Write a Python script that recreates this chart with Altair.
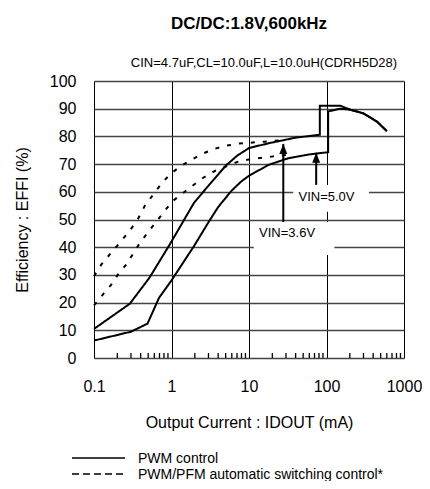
import altair as alt
import pandas as pd

FONT = "Liberation Sans"

# ---- curves (Output current mA, efficiency %) ----
pwm36_x = [0.1, 0.29, 0.52, 0.95, 1.95, 3.06, 5.0, 7.0, 10, 17.8, 26.5, 39, 71, 82, 82, 150, 200, 300, 450, 600]
pwm36_y = [10.5, 19.6, 29.0, 41.0, 56.0, 62.5, 69.4, 73.0, 75.8, 77.5, 78.5, 79.5, 80.4, 80.6, 91.1, 91.1, 89.7, 88.3, 85.3, 81.9]

pwm50_x = [0.1, 0.3, 0.49, 0.69, 1.0, 1.95, 3.0, 4.0, 6.0, 8.0, 10, 17.8, 32, 60, 105, 105, 150, 200, 300, 450, 600]
pwm50_y = [6.3, 9.5, 12.4, 21.7, 28.0, 40.4, 49.0, 54.5, 60.5, 63.8, 65.8, 69.7, 72.1, 73.5, 74.3, 89.0, 90.0, 89.7, 88.3, 85.3, 81.9]

pfm36_x = [0.1, 0.124, 0.159, 0.224, 0.286, 0.366, 0.454, 0.58, 0.755, 0.975, 1.33, 1.84, 2.59, 3.6, 5.0, 7.4, 10, 16, 26]
pfm36_y = [29.5, 33.7, 37.3, 42.2, 45.8, 50.0, 55.0, 59.0, 63.2, 66.5, 69.4, 71.7, 73.9, 75.5, 76.6, 77.4, 77.7, 78.1, 78.6]

pfm50_x = [0.1, 0.13, 0.167, 0.21, 0.26, 0.38, 0.5, 0.65, 0.817, 1.04, 1.4, 1.87, 2.51, 3.6, 5.0, 7.1, 10, 19.6, 32]
pfm50_y = [19.0, 22.9, 26.5, 30.7, 33.7, 41.0, 45.5, 49.5, 53.1, 56.7, 59.5, 62.2, 64.9, 67.5, 69.1, 70.8, 71.7, 72.7, 73.4]

modes = ["PWM control", "PWM/PFM automatic switching control*"]

# ---- annotations ----
ann_text = ["VIN=3.6V", "VIN=5.0V"]
ann_x = [31, 100]
ann_y = [45, 58.2]
box_x1 = [11.5, 37.2]
box_x2 = [126.5, 353]
box_y1 = [37.2, 52.8]
box_y2 = [49.1, 62.5]
arrow_x = [27.7, 73.6]
arrow_from = [49.1, 62.5]
arrow_tip = [77.3, 74.1]

x_major = [0.1, 1, 10, 100, 1000]
x_minor = [m * d for d in [0.1, 1, 10, 100] for m in range(2, 10)]
y_ticks = list(range(0, 101, 10))

title_text = "DC/DC:1.8V,600kHz"
subtitle_text = "CIN=4.7uF,CL=10.0uF,L=10.0uH(CDRH5D28)"

W, H = 310, 277

# ---- build tables ----
rows = []
for name, mode, xs, ys in [
    ("pwm36", modes[0], pwm36_x, pwm36_y),
    ("pwm50", modes[0], pwm50_x, pwm50_y),
    ("pfm36", modes[1], pfm36_x, pfm36_y),
    ("pfm50", modes[1], pfm50_x, pfm50_y),
]:
    for i, (a, b) in enumerate(zip(xs, ys)):
        rows.append({"x": a, "y": b, "series": name, "mode": mode, "o": i})
df = pd.DataFrame(rows)

ann = pd.DataFrame({"t": ann_text, "x": ann_x, "y": ann_y,
                    "bx1": box_x1, "bx2": box_x2, "by1": box_y1, "by2": box_y2})
arr = pd.DataFrame({"x": arrow_x, "y1": arrow_from, "y2": arrow_tip})
minor = pd.DataFrame({"x": x_minor})

xscale = alt.Scale(type="log", domain=[0.1, 1000], nice=False)
yscale = alt.Scale(domain=[0, 100], nice=False)

xaxis = alt.Axis(values=x_major, format="~g", grid=True, gridColor="#000", gridWidth=1,
                 ticks=False, domain=False, labelFontSize=16, labelPadding=20, labelFont=FONT,
                 labelColor="#000", title="Output Current : IDOUT (mA)", titleFont=FONT,
                 titleFontSize=16, titleFontWeight="normal", titleColor="#000",
                 titleX=W / 2, titleY=64, titleBaseline="middle", titleAlign="center",
                 labelFlush=False, labelOverlap=False, labelBound=False)
yaxis = alt.Axis(values=y_ticks, grid=True, gridColor="#444", gridWidth=1.3,
                 ticks=False, domain=False, labelFontSize=16, labelPadding=18, labelFont=FONT,
                 labelColor="#000", title="Efficiency : EFFI (%)", titleFont=FONT,
                 titleFontSize=16, titleFontWeight="normal", titleColor="#000",
                 titleX=-72, titleY=H / 2, titleAngle=-90, titleBaseline="middle",
                 titleAlign="center", labelFlush=False, labelOverlap=False, labelBound=False)


def X(field):
    return alt.X(field, scale=xscale, axis=xaxis, title="Output Current : IDOUT (mA)")


def Y(field):
    return alt.Y(field, scale=yscale, axis=yaxis, title="Efficiency : EFFI (%)")


boxes = alt.Chart(ann).mark_rect(fill="white", stroke=None).encode(
    x=X("bx1:Q"), x2="bx2:Q", y=Y("by1:Q"), y2="by2:Q",
)

minor_ticks = alt.Chart(minor).mark_rule(color="#000", strokeWidth=1.3).encode(
    x=X("x:Q"), y=alt.value(H), y2=alt.value(H - 5),
)

lines = alt.Chart(df).mark_line(color="#000", strokeWidth=2, strokeCap="butt").encode(
    x=X("x:Q"),
    y=Y("y:Q"),
    detail="series:N",
    order="o:Q",
    strokeDash=alt.StrokeDash("mode:N", scale=alt.Scale(domain=modes, range=[[1, 0], [4, 8]]), legend=None),
)

shafts = alt.Chart(arr).mark_rule(color="#000", strokeWidth=2).encode(
    x=X("x:Q"), y=Y("y1:Q"), y2="y2:Q",
)

heads = alt.Chart(arr).mark_point(shape="M0,0L0.8,2L-0.8,2Z", size=100, filled=True,
                                  color="#000", opacity=1, strokeWidth=0).encode(
    x=X("x:Q"), y=Y("y2:Q"),
)

labels = alt.Chart(ann).mark_text(font=FONT, fontSize=13, color="#000",
                                  align="center", baseline="middle").encode(
    x=X("x:Q"), y=Y("y:Q"), text="t:N",
)

sub = alt.Chart(pd.DataFrame({"t": [subtitle_text]})).mark_text(
    font=FONT, fontSize=13, color="#000", align="center", baseline="middle"
).encode(x=alt.value(170), y=alt.value(-18), text="t:N")

leg_df = pd.DataFrame({"t": modes})
leg_solid = alt.Chart(leg_df.iloc[[0]]).mark_rule(color="#000", strokeWidth=1.5).encode(
    x=alt.value(-22), x2=alt.value(31), y=alt.value(377))
leg_dash = alt.Chart(leg_df.iloc[[1]]).mark_rule(color="#000", strokeWidth=1.5, strokeDash=[7, 4]).encode(
    x=alt.value(-22), x2=alt.value(31), y=alt.value(393))
leg_t1 = alt.Chart(leg_df.iloc[[0]]).mark_text(font=FONT, fontSize=14, color="#000", align="left",
                                                baseline="middle").encode(
    x=alt.value(44), y=alt.value(378), text="t:N")
leg_t2 = alt.Chart(leg_df.iloc[[1]]).mark_text(font=FONT, fontSize=14, color="#000", align="left",
                                                baseline="middle").encode(
    x=alt.value(44), y=alt.value(394), text="t:N")

chart = alt.layer(
    boxes, minor_ticks, lines, shafts, heads, labels, sub,
    leg_solid, leg_dash, leg_t1, leg_t2,
).properties(
    width=W, height=H,
    title=alt.Title(title_text, fontSize=17, fontWeight="bold", font=FONT, color="#000",
                    anchor="middle", baseline="bottom", offset=7),
    autosize=alt.AutoSizeParams(type="none"),
    padding={"left": 86, "top": 73, "right": 18, "bottom": 123},
).configure_view(
    stroke="#000", strokeWidth=2
).configure(background="white")

chart.save("out.html", embed_options={"renderer": "svg", "actions": False})
